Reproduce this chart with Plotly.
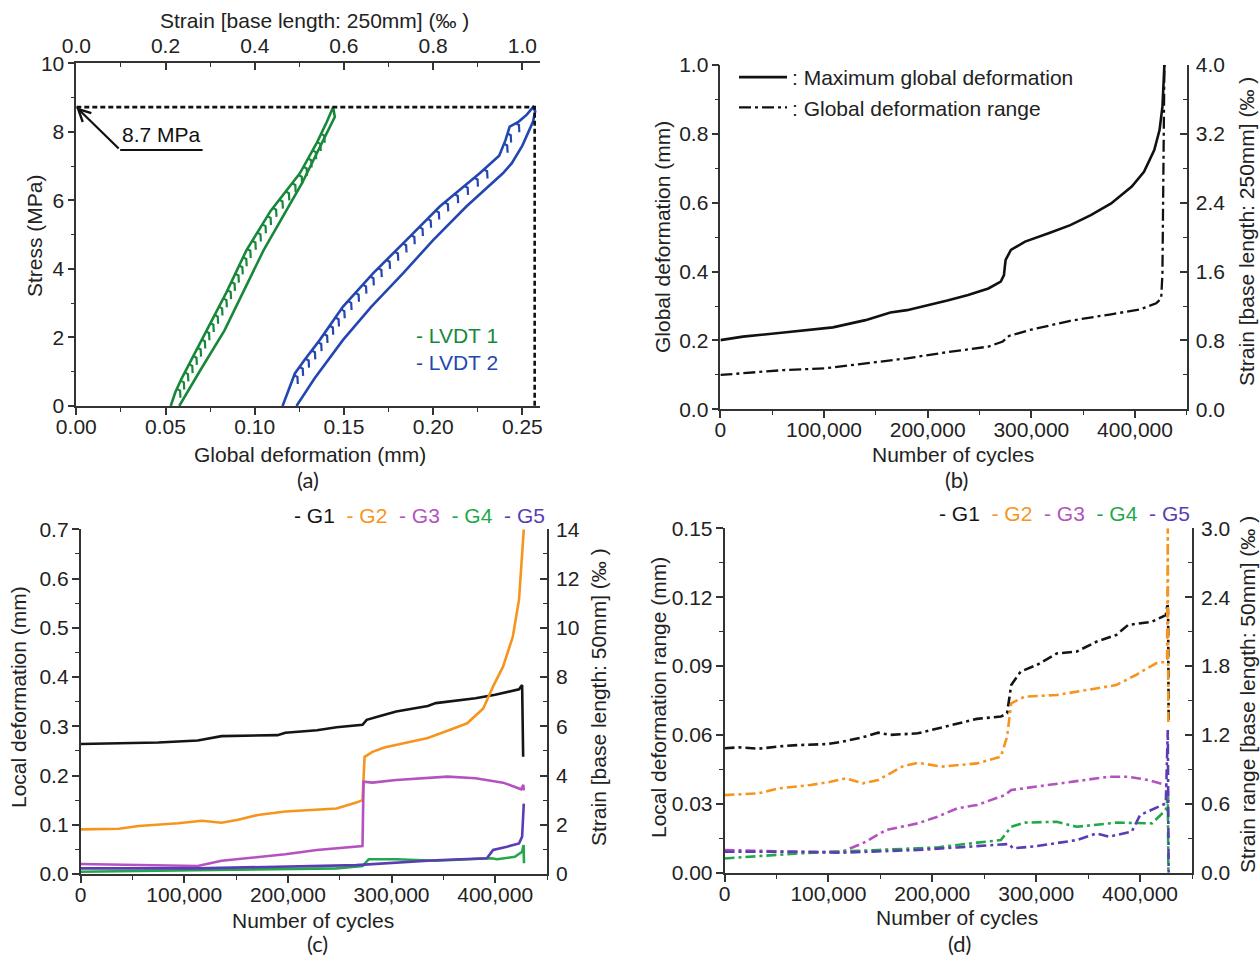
import numpy as np
import plotly.graph_objects as go

# ---------------- DATA ----------------
# (a) stress - global deformation loops
lvdt1_load_def = [0.0529, 0.0555, 0.0590, 0.0640, 0.0730, 0.0840, 0.0954, 0.1090, 0.1253, 0.1350, 0.1405, 0.1439]
lvdt1_load_stress = [0.0, 0.4, 0.8, 1.3, 2.22, 3.3, 4.55, 5.7, 6.79, 7.7, 8.3, 8.72]
lvdt1_unload_def = [0.1439, 0.1449, 0.1265, 0.1050, 0.0830, 0.0690, 0.0577]
lvdt1_unload_stress = [8.72, 8.44, 6.5, 4.55, 2.2, 1.0, 0.0]

lvdt2_load_def = [0.1156, 0.1190, 0.1225, 0.1280, 0.1365, 0.1495, 0.1663, 0.1850, 0.2037, 0.2261,
                  0.2370, 0.2405, 0.2429, 0.2480, 0.2525, 0.2560]
lvdt2_load_stress = [0.0, 0.45, 0.95, 1.35, 1.93, 2.9, 3.87, 4.84, 5.82, 6.79, 7.3, 7.75, 8.15, 8.3, 8.5, 8.72]
lvdt2_unload_def = [0.2560, 0.2572, 0.2560, 0.2500, 0.2440, 0.2391, 0.2186, 0.2000, 0.1831, 0.1654,
                    0.1495, 0.1335, 0.1234]
lvdt2_unload_stress = [8.72, 8.6, 8.3, 7.6, 7.08, 6.79, 5.82, 4.84, 3.87, 2.9, 1.93, 0.8, 0.0]

peak_stress = 8.72      # MPa (labelled 8.7 MPa)
peak_def = 0.2569       # mm

# (b) global deformation vs cycles
b_cycles_max = [0, 21700, 61200, 100700, 108600, 140000, 148000, 164000, 180000, 199000, 219000, 239000,
                258600, 270500, 273600, 274400, 275200, 280300, 294000, 318000, 337600, 357400, 377000,
                396900, 408700, 418600, 423700, 426500, 428400]
b_max_def = [0.201, 0.211, 0.223, 0.235, 0.238, 0.259, 0.267, 0.281, 0.288, 0.301, 0.316, 0.332,
             0.351, 0.371, 0.390, 0.414, 0.434, 0.463, 0.487, 0.513, 0.535, 0.564, 0.598,
             0.647, 0.690, 0.753, 0.811, 0.879, 1.0]
b_cycles_range = [0, 61200, 100700, 140000, 180000, 219000, 258600, 272500, 278400, 298000, 337600,
                  377000, 404700, 420500, 425300, 426500, 427700, 428400]
b_range_def = [0.0997, 0.114, 0.119, 0.134, 0.148, 0.166, 0.182, 0.197, 0.213, 0.230, 0.257,
               0.276, 0.290, 0.308, 0.322, 0.395, 0.685, 1.0]

# (c) local deformation vs cycles
c_g1_x = [0, 75000, 113000, 125000, 136000, 190000, 197500, 228000, 247000, 272000, 276000, 289000,
          304500, 335000, 342700, 381000, 400000, 423000, 426000, 427000]
c_g1_y = [0.264, 0.267, 0.271, 0.276, 0.280, 0.282, 0.287, 0.292, 0.298, 0.303, 0.313, 0.321,
          0.330, 0.341, 0.347, 0.357, 0.364, 0.375, 0.384, 0.238]
c_g2_x = [0, 37000, 56000, 94000, 117000, 136000, 152000, 171000, 197500, 213000, 247000, 266000,
          272000, 274000, 281600, 293000, 323600, 335000, 354000, 373000, 388500, 392000, 398000,
          407600, 417000, 423000, 426000, 427600]
c_g2_y = [0.0907, 0.092, 0.0975, 0.103, 0.108, 0.104, 0.110, 0.120, 0.127, 0.129, 0.133, 0.145,
          0.150, 0.238, 0.248, 0.257, 0.271, 0.276, 0.291, 0.306, 0.336, 0.353, 0.381,
          0.421, 0.482, 0.557, 0.644, 0.700]
c_g3_x = [0, 113000, 136000, 171000, 197500, 228000, 266000, 272000, 273000, 281600, 304500, 335000,
          354000, 381000, 407600, 425000, 427200, 427600]
c_g3_y = [0.0203, 0.0162, 0.027, 0.035, 0.040, 0.0487, 0.0555, 0.0569, 0.1875, 0.1855, 0.191, 0.1943,
          0.1977, 0.1943, 0.1855, 0.172, 0.181, 0.170]
c_g4_x = [0, 113000, 247000, 272000, 278000, 304500, 323600, 342700, 396000, 401800, 419000, 426000,
          427400, 427800]
c_g4_y = [0.0047, 0.008, 0.0115, 0.016, 0.030, 0.030, 0.028, 0.027, 0.032, 0.030, 0.035, 0.045,
          0.059, 0.022]
c_g5_x = [0, 113000, 266000, 304500, 342700, 392000, 398000, 411400, 423000, 426000, 427600]
c_g5_y = [0.0115, 0.0115, 0.018, 0.023, 0.028, 0.032, 0.049, 0.0555, 0.062, 0.076, 0.143]

# (d) local deformation range vs cycles
d_g1_x = [0, 14000, 33000, 52000, 71000, 98000, 113000, 133000, 148000, 159000, 186000, 205000,
          224000, 243000, 266000, 272000, 276000, 285000, 300700, 319800, 339000, 358000, 377000,
          388500, 411400, 424800, 426500, 427000, 427500]
d_g1_y = [0.0542, 0.0546, 0.054, 0.055, 0.0556, 0.056, 0.057, 0.059, 0.061, 0.060, 0.0607, 0.0629,
          0.065, 0.067, 0.068, 0.0694, 0.0818, 0.0876, 0.0905, 0.0955, 0.0963, 0.1006, 0.1035,
          0.1079, 0.1093, 0.1122, 0.1173, 0.112, 0.065]
d_g2_x = [0, 33000, 52000, 83000, 102000, 117000, 133000, 148000, 171000, 186000, 209000, 243000,
          266000, 272000, 276000, 289000, 319800, 358000, 377000, 396000, 415500, 424800, 426000,
          426700, 427200]
d_g2_y = [0.0338, 0.0346, 0.0367, 0.0382, 0.0396, 0.0411, 0.0389, 0.0404, 0.0462, 0.0479, 0.0462,
          0.0476, 0.0505, 0.0592, 0.0738, 0.0767, 0.0774, 0.0803, 0.0817, 0.0861, 0.0912, 0.0919,
          0.093, 0.150, 0.065]
d_g3_x = [0, 71000, 113000, 133000, 155500, 186000, 205000, 224000, 243000, 270000, 276000, 300700,
          339000, 370000, 388500, 407600, 424800, 426700, 427200]
d_g3_y = [0.0099, 0.0091, 0.0091, 0.0128, 0.0186, 0.0215, 0.0244, 0.028, 0.0295, 0.0338, 0.036,
          0.0375, 0.0396, 0.0418, 0.0418, 0.0404, 0.0382, 0.036, 0.030]
d_g4_x = [0, 71000, 148000, 205000, 243000, 266000, 276000, 289000, 319800, 339000, 377000, 396000,
          411400, 424800, 426700, 427300]
d_g4_y = [0.0062, 0.0084, 0.0099, 0.011, 0.0131, 0.0142, 0.020, 0.0218, 0.0222, 0.020, 0.0218,
          0.0215, 0.0215, 0.0273, 0.033, 0.0]
d_g5_x = [0, 71000, 113000, 186000, 224000, 262000, 273900, 277700, 300700, 339000, 358000, 370000,
          392000, 400000, 424800, 426700, 427500]
d_g5_y = [0.0091, 0.0091, 0.0087, 0.0099, 0.011, 0.012, 0.0125, 0.0106, 0.0116, 0.0142, 0.0171,
          0.0157, 0.0179, 0.0251, 0.0302, 0.0621, 0.0]

gauge_names = ["G1", "G2", "G3", "G4", "G5"]
gauge_colors = ["#151515", "#f7941e", "#b452c0", "#22a84a", "#5b3cb4"]

STRAIN_250 = 1000.0 / 250.0   # mm -> per mille, 250 mm base
STRAIN_50 = 1000.0 / 50.0     # mm -> per mille, 50 mm base

# ---------------- STYLE ----------------
FONT = "Liberation Sans, Arial, sans-serif"
TXT = "#222222"
AXC = "#333333"
GREEN = "#17883a"
BLUE = "#2446b0"
W, H = 1260, 960


def px_x(p):
    return p / W


def px_y(p):
    return 1 - p / H


fig = go.Figure()


# ----- panel (a) -----
def hooks(xs, ys, levels):
    # small unloading hooks hanging below the loading branch
    hx, hy = [], []
    for s in levels:
        x0 = float(np.interp(s, ys, xs))
        hx += [x0, x0 + 0.0018, x0 + 0.0020, None]
        hy += [s, s - 0.05, s - 0.26, None]
    return hx, hy


lvl1 = list(np.arange(0.5, 8.1, 0.24))
lvl2 = list(np.arange(0.9, 7.1, 0.24)) + [7.65, 7.95, 8.25]
for lx, ly, ux, uy, col, lv in [
    (lvdt1_load_def, lvdt1_load_stress, lvdt1_unload_def, lvdt1_unload_stress, GREEN, lvl1),
    (lvdt2_load_def, lvdt2_load_stress, lvdt2_unload_def, lvdt2_unload_stress, BLUE, lvl2),
]:
    fig.add_trace(go.Scatter(x=lx + ux[1:], y=ly + uy[1:], mode="lines", xaxis="x", yaxis="y",
                             line=dict(color=col, width=2.6), showlegend=False, hoverinfo="skip"))
    hx, hy = hooks(lx, ly, lv)
    fig.add_trace(go.Scatter(x=hx, y=hy, mode="lines", xaxis="x", yaxis="y",
                             line=dict(color=col, width=2.2), showlegend=False, hoverinfo="skip"))

fig.add_trace(go.Scatter(x=[0, peak_def, peak_def], y=[peak_stress, peak_stress, 0], mode="lines",
                         xaxis="x", yaxis="y", line=dict(color="#111", width=2.6, dash="5px,3px"),
                         showlegend=False, hoverinfo="skip"))
# top strain axis carrier
fig.add_trace(go.Scatter(x=[v * STRAIN_250 for v in lvdt2_load_def], y=lvdt2_load_stress, mode="lines",
                         xaxis="x2", yaxis="y", line=dict(width=0), opacity=0, showlegend=False, hoverinfo="skip"))

# ----- panel (b) -----
fig.add_trace(go.Scatter(x=b_cycles_max, y=b_max_def, mode="lines", xaxis="x3", yaxis="y3",
                         name=": Maximum global deformation", line=dict(color="#111", width=2.6),
                         legend="legend", hoverinfo="skip"))
fig.add_trace(go.Scatter(x=b_cycles_range, y=b_range_def, mode="lines", xaxis="x3", yaxis="y3",
                         name=": Global deformation range",
                         line=dict(color="#111", width=2.3, dash="12px,4px,3px,4px"),
                         legend="legend", hoverinfo="skip"))
fig.add_trace(go.Scatter(x=b_cycles_max, y=[v * STRAIN_250 for v in b_max_def], mode="lines",
                         xaxis="x3", yaxis="y4", line=dict(width=0), opacity=0, showlegend=False, hoverinfo="skip"))

# ----- panel (c) -----
c_series = [(c_g1_x, c_g1_y), (c_g2_x, c_g2_y), (c_g3_x, c_g3_y), (c_g4_x, c_g4_y), (c_g5_x, c_g5_y)]
for (xs, ys), nm, col in zip(c_series, gauge_names, gauge_colors):
    fig.add_trace(go.Scatter(x=xs, y=ys, mode="lines", xaxis="x4", yaxis="y5", name=nm,
                             line=dict(color=col, width=2.6), showlegend=False, hoverinfo="skip"))
fig.add_trace(go.Scatter(x=c_g1_x, y=[v * STRAIN_50 for v in c_g1_y], mode="lines", xaxis="x4", yaxis="y6",
                         line=dict(width=0), opacity=0, showlegend=False, hoverinfo="skip"))

# ----- panel (d) -----
d_series = [(d_g1_x, d_g1_y), (d_g2_x, d_g2_y), (d_g3_x, d_g3_y), (d_g4_x, d_g4_y), (d_g5_x, d_g5_y)]
for (xs, ys), nm, col in zip(d_series, gauge_names, gauge_colors):
    fig.add_trace(go.Scatter(x=xs, y=ys, mode="lines", xaxis="x5", yaxis="y7", name=nm,
                             line=dict(color=col, width=2.6, dash="10px,4px,3px,4px"),
                             showlegend=False, hoverinfo="skip"))
fig.add_trace(go.Scatter(x=d_g1_x, y=[v * STRAIN_50 for v in d_g1_y], mode="lines", xaxis="x5", yaxis="y8",
                         line=dict(width=0), opacity=0, showlegend=False, hoverinfo="skip"))

# ---------------- AXES ----------------
TICKFONT = dict(family=FONT, size=21, color=TXT)


def axis(side_ticks="outside", minor_dtick=None, standoff=0, **kw):
    d = dict(showline=True, linecolor=AXC, linewidth=1.6, showgrid=False, zeroline=False,
             ticks=side_ticks, ticklen=7, tickwidth=1.6, tickcolor=AXC, tickfont=TICKFONT,
             automargin=False, fixedrange=True, ticklabelstandoff=standoff)
    if minor_dtick is not None:
        d["minor"] = dict(dtick=minor_dtick, ticks=side_ticks, ticklen=4, tickwidth=1.4, tickcolor=AXC)
    d.update(kw)
    return d


XSO = -6   # bring bottom tick labels closer to the axis
YSO = -1
RSO = 3

dom_a_x = [px_x(76.3), px_x(540.2)]
dom_a_y = [px_y(406), px_y(63.3)]
dom_b_x = [px_x(720.4), px_x(1186.8)]
dom_b_y = [px_y(409.3), px_y(65)]
dom_c_x = [px_x(80.6), px_x(547)]
dom_c_y = [px_y(874), px_y(529.3)]
dom_d_x = [px_x(724.5), px_x(1192)]
dom_d_y = [px_y(872.7), px_y(528.3)]

layout_axes = dict(
    xaxis=axis(minor_dtick=0.025, standoff=XSO, domain=dom_a_x, anchor="y", range=[0, 0.26], dtick=0.05,
               tick0=0, tickformat=".2f"),
    xaxis2=axis("inside", minor_dtick=0.1, standoff=0, overlaying="x", side="top", anchor="y",
                range=[0, 0.26 * STRAIN_250], dtick=0.2, tick0=0, tickformat=".1f"),
    yaxis=axis(minor_dtick=1, standoff=YSO, domain=dom_a_y, anchor="x", range=[0, 10], dtick=2, tick0=0),
    xaxis3=axis(minor_dtick=50000, standoff=XSO, domain=dom_b_x, anchor="y3", range=[0, 450000],
                dtick=100000, tick0=0, tickformat=","),
    yaxis3=axis(minor_dtick=0.1, standoff=YSO, domain=dom_b_y, anchor="x3", range=[0, 1.0], dtick=0.2,
                tick0=0, tickformat=".1f"),
    yaxis4=axis("inside", minor_dtick=0.4, standoff=RSO, overlaying="y3", side="right", anchor="x3",
                range=[0, 1.0 * STRAIN_250], dtick=0.8, tick0=0, tickformat=".1f"),
    xaxis4=axis(minor_dtick=50000, standoff=XSO, domain=dom_c_x, anchor="y5", range=[0, 450000],
                dtick=100000, tick0=0, tickformat=","),
    yaxis5=axis(minor_dtick=0.05, standoff=YSO, domain=dom_c_y, anchor="x4", range=[0, 0.7], dtick=0.1,
                tick0=0, tickformat=".1f"),
    yaxis6=axis("inside", minor_dtick=1, standoff=RSO, overlaying="y5", side="right", anchor="x4",
                range=[0, 0.7 * STRAIN_50], dtick=2, tick0=0),
    xaxis5=axis(minor_dtick=50000, standoff=XSO, domain=dom_d_x, anchor="y7", range=[0, 450000],
                dtick=100000, tick0=0, tickformat=","),
    yaxis7=axis(minor_dtick=0.015, standoff=YSO, domain=dom_d_y, anchor="x5", range=[0, 0.15], dtick=0.03,
                tick0=0, tickformat=".2f"),
    yaxis8=axis("inside", minor_dtick=0.3, standoff=RSO, overlaying="y7", side="right", anchor="x5",
                range=[0, 0.15 * STRAIN_50], dtick=0.6, tick0=0, tickformat=".1f"),
)

# ---------------- ANNOTATIONS ----------------
TITLE_FONT = dict(family=FONT, size=21, color=TXT)
ann = []


def title(text, x, y, angle=0):
    ann.append(dict(text=text, x=px_x(x), y=px_y(y), xref="paper", yref="paper", showarrow=False,
                    textangle=angle, font=TITLE_FONT, xanchor="center", yanchor="middle"))


title("Stress (MPa)", 34, 236, -90)
title("Global deformation (mm)", 310, 454)
title("Strain [base length: 250mm] (‰ )", 314, 21)
title("Global deformation (mm)", 663, 237, -90)
title("Number of cycles", 953, 454)
title("Strain [base length: 250mm] (‰ )", 1246, 232, -90)
title("Local deformation (mm)", 18, 697, -90)
title("Number of cycles", 313, 920)
title("Strain [base length: 50mm] (‰ )", 598, 697, -90)
title("Local deformation range (mm)", 658, 698, -90)
title("Number of cycles", 957, 917)
title("Strain range [base length: 50mm] (‰ )", 1247, 695, -90)

PANEL_FONT = dict(family="Lato, Open Sans, sans-serif", size=22, color=TXT)
for lab, x, y in [("(a)", 308, 479), ("(b)", 956, 479), ("(c)", 317, 943), ("(d)", 959, 943)]:
    ann.append(dict(text=lab, x=px_x(x), y=px_y(y), xref="paper", yref="paper", showarrow=False,
                    font=PANEL_FONT, xanchor="center", yanchor="middle"))

# peak stress arrow + label (panel a)
ann.append(dict(x=0, y=peak_stress, ax=0.0246, ay=7.47, xref="x", yref="y", axref="x", ayref="y",
                text="", showarrow=True, arrowhead=5, arrowsize=1.1, arrowwidth=2.2, arrowcolor="#111"))
ann.append(dict(x=0.0477, y=7.47, xref="x", yref="y", text=f"{peak_stress:.1f} MPa", showarrow=False,
                font=dict(family=FONT, size=21, color="#111"), xanchor="center", yanchor="bottom", yshift=2))
# LVDT legend text
ann.append(dict(x=0.2135, y=2.07, xref="x", yref="y", text="- LVDT 1", showarrow=False,
                font=dict(family=FONT, size=21, color=GREEN), xanchor="center", yanchor="middle"))
ann.append(dict(x=0.2135, y=1.28, xref="x", yref="y", text="- LVDT 2", showarrow=False,
                font=dict(family=FONT, size=21, color=BLUE), xanchor="center", yanchor="middle"))

# gauge legends for (c) and (d)
gl = "&nbsp;&nbsp;".join(f'<span style="color:{c}">- {n}</span>' for n, c in zip(gauge_names, gauge_colors))
ann.append(dict(text=gl, x=px_x(547), y=px_y(515), xref="paper", yref="paper", showarrow=False,
                font=dict(family=FONT, size=21, color=TXT), xanchor="right", yanchor="middle"))
ann.append(dict(text=gl, x=px_x(1192), y=px_y(513), xref="paper", yref="paper", showarrow=False,
                font=dict(family=FONT, size=21, color=TXT), xanchor="right", yanchor="middle"))

shapes = [dict(type="line", xref="x", yref="y", x0=0.0246, x1=0.0708, y0=7.47, y1=7.47,
               line=dict(color="#111", width=2.2))]

fig.update_layout(
    width=W, height=H, margin=dict(l=0, r=0, t=0, b=0),
    paper_bgcolor="white", plot_bgcolor="white",
    font=dict(family=FONT, size=21, color=TXT),
    annotations=ann, shapes=shapes,
    legend=dict(x=px_x(734), y=px_y(57), xanchor="left", yanchor="top", bgcolor="rgba(0,0,0,0)",
                font=dict(family=FONT, size=21, color=TXT), itemwidth=48, tracegroupgap=0),
    **layout_axes,
)

fig.write_html("out.html", config={"displayModeBar": False},
               post_script="document.body.style.margin='0';")
